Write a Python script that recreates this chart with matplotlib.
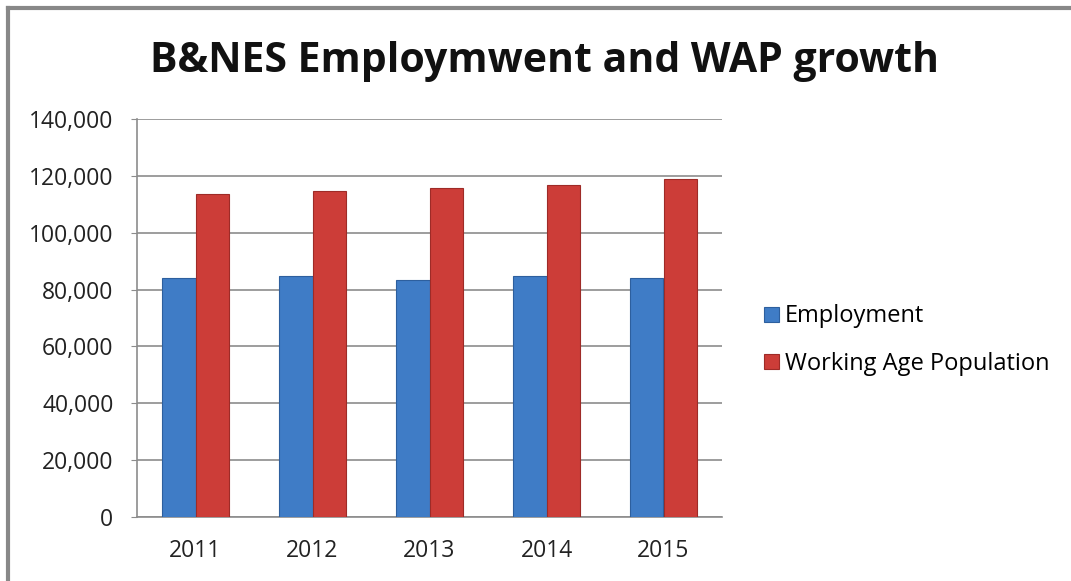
import matplotlib
matplotlib.use("Agg")
import matplotlib.pyplot as plt
from matplotlib.ticker import FuncFormatter
import numpy as np

years = ["2011", "2012", "2013", "2014", "2015"]
employment = [84000, 84900, 83200, 84900, 84000]
wap = [113700, 114500, 115900, 116800, 119000]
series_names = ["Employment", "Working Age Population"]
title = "B&NES Employmwent and WAP growth"

blue = "#3F7CC6"
red = "#CC3D38"
font = ["Open Sans", "DejaVu Sans"]

W, H = 1071, 581
fig = plt.figure(figsize=(W / 100, H / 100), dpi=100)
fig.patch.set_facecolor("white")

# outer frame (left and top visible)
fig.add_artist(plt.Line2D([7.5 / W, 7.5 / W], [0, 1 - 7.5 / H], color="#888888", lw=3,
                          transform=fig.transFigure))
fig.add_artist(plt.Line2D([7.5 / W, 1], [1 - 7.5 / H, 1 - 7.5 / H], color="#888888", lw=3,
                          transform=fig.transFigure))

left, right, top, bottom = 137, 722, 119, 517
ax = fig.add_axes([left / W, 1 - bottom / H, (right - left) / W, (bottom - top) / H])

x = np.arange(len(years))
bw = 0.287
ax.bar(x - bw / 2, employment, width=bw, color=blue, edgecolor="#2D5F9E", linewidth=0.8,
       label=series_names[0], zorder=3)
ax.bar(x + bw / 2, wap, width=bw, color=red, edgecolor="#9E2B27", linewidth=0.8,
       label=series_names[1], zorder=3)

ax.set_xlim(-0.5, len(years) - 0.5)
ax.set_ylim(0, 140000)
ax.set_yticks(np.arange(0, 140001, 20000))
ax.yaxis.set_major_formatter(FuncFormatter(lambda v, p: f"{int(v):,}"))
ax.set_xticks(x)
ax.set_xticklabels(years)
ax.grid(axis="y", color="#8C8C8C", lw=1.2, zorder=0)
for s in ["top", "right"]:
    ax.spines[s].set_visible(False)
ax.spines["left"].set_color("#8C8C8C")
ax.spines["bottom"].set_color("#8C8C8C")
ax.spines["left"].set_linewidth(1.2)
ax.spines["bottom"].set_linewidth(1.2)
ax.tick_params(axis="y", length=4, color="#8C8C8C", labelsize=16.5, pad=13)
ax.tick_params(axis="x", length=0, labelsize=16.5, pad=16)
for lab in ax.get_xticklabels() + ax.get_yticklabels():
    lab.set_family(font)
    lab.set_color("#222222")

fig.text(545 / W, 1 - 62 / H, title, ha="center", va="center", fontsize=29.5,
         fontweight="bold", family=font, color="#111111")

leg = fig.legend(loc="upper left", bbox_to_anchor=(755 / W, 1 - 295 / H), frameon=False,
                 prop={"family": font, "size": 17}, handlelength=0.6, handleheight=0.6,
                 handletextpad=0.25, labelspacing=1.0, borderaxespad=0)

fig.savefig("out.png", dpi=100, facecolor="white")
